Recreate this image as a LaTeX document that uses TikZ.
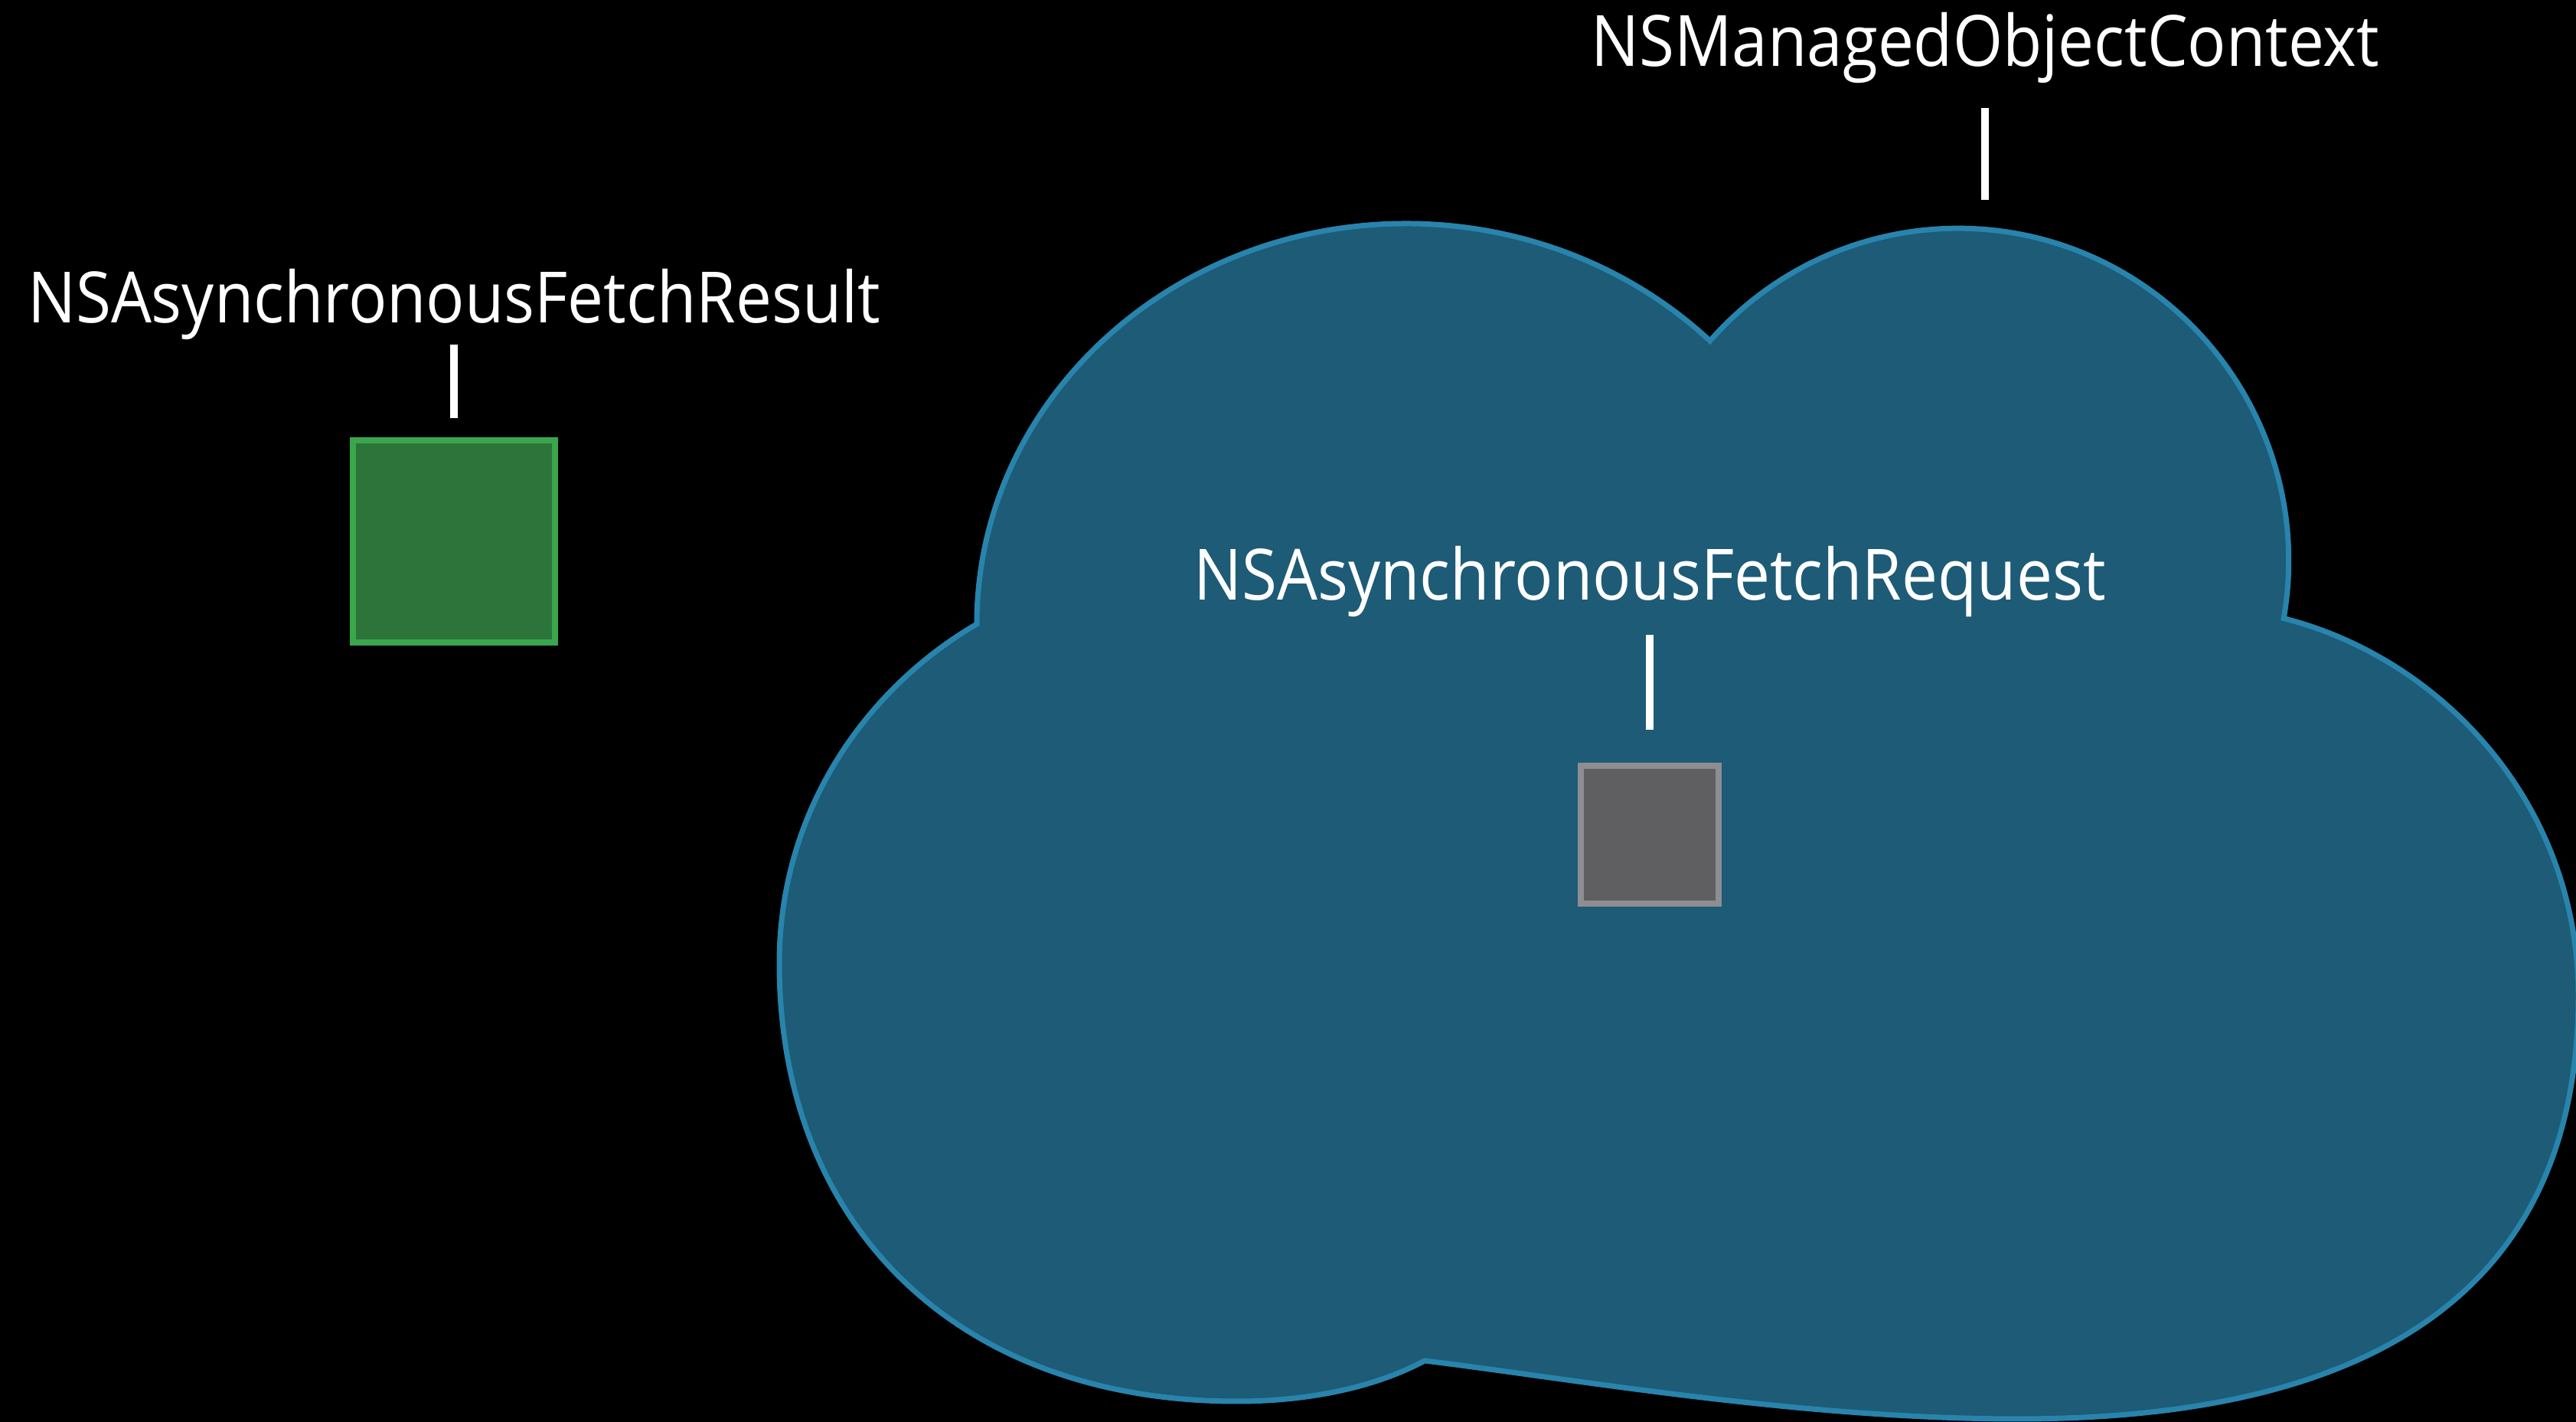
\documentclass[tikz,border=0pt]{standalone}
\usepackage{fontspec}
\setmainfont{Open Sans}[FakeStretch=0.905]

\definecolor{cloudfill}{HTML}{1D5B76}
\definecolor{cloudline}{HTML}{2884AC}
\definecolor{resfill}{HTML}{2C7439}
\definecolor{resline}{HTML}{3AA74D}
\definecolor{reqfill}{HTML}{5F5F61}
\definecolor{reqline}{HTML}{8E8D92}

\begin{document}
\begin{tikzpicture}[
        lbl/.style={text=white, font=\fontsize{26.3}{30}\selectfont, anchor=base, inner sep=0pt},
        tick/.style={draw=white, line width=0.1cm},
        objbox/.style={rectangle, line width=0.08cm, inner sep=0pt}]
        \useasboundingbox (0,0) rectangle (33.65,18.57);
        \fill[black] (0,0) rectangle (33.65,18.57);
        \filldraw[fill=cloudfill, draw=cloudline, line width=0.07cm, line join=miter]
            (12.76,10.42) arc[start angle=180, end angle=45, x radius=5.61, y radius=5.23]
            arc[start angle=138.6, end angle=-10, x radius=4.32, y radius=4.34]
            .. controls (31.90,9.97) and (33.68,8.07) .. (33.68,5.57)
            .. controls (33.68,1.57) and (30.80,0.04) .. (26.36,0.04)
            .. controls (23.50,0.04) and (20.50,0.57) .. (18.61,0.80)
            .. controls (17.90,0.42) and (17.00,0.27) .. (16.16,0.27)
            .. controls (12.50,0.27) and (10.18,2.57) .. (10.18,5.99)
            .. controls (10.18,7.97) and (11.30,9.57) .. (12.76,10.42) -- cycle;
        \node[lbl] (ctxlbl) at (25.93,17.70) {NSManagedObjectContext};
        \coordinate (ctxtop) at (25.93,15.96);
        \draw[tick] ([yshift=-0.54cm]ctxlbl.base) -- (ctxtop);
        \node[lbl] (reslbl) at (5.93,14.35) {NSAsynchronousFetchResult};
        \node[objbox, fill=resfill, draw=resline, minimum size=2.64cm] (resbox) at (5.93,11.50) {};
        \draw[tick] ([yshift=-0.28cm]reslbl.base) -- ([yshift=0.25cm]resbox.north);
        \node[lbl] (reqlbl) at (21.55,10.73) {NSAsynchronousFetchRequest};
        \node[objbox, fill=reqfill, draw=reqline, minimum size=1.80cm] (reqbox) at (21.55,7.67) {};
        \draw[tick] ([yshift=-0.45cm]reqlbl.base) -- ([yshift=0.43cm]reqbox.north);
\end{tikzpicture}
\end{document}
